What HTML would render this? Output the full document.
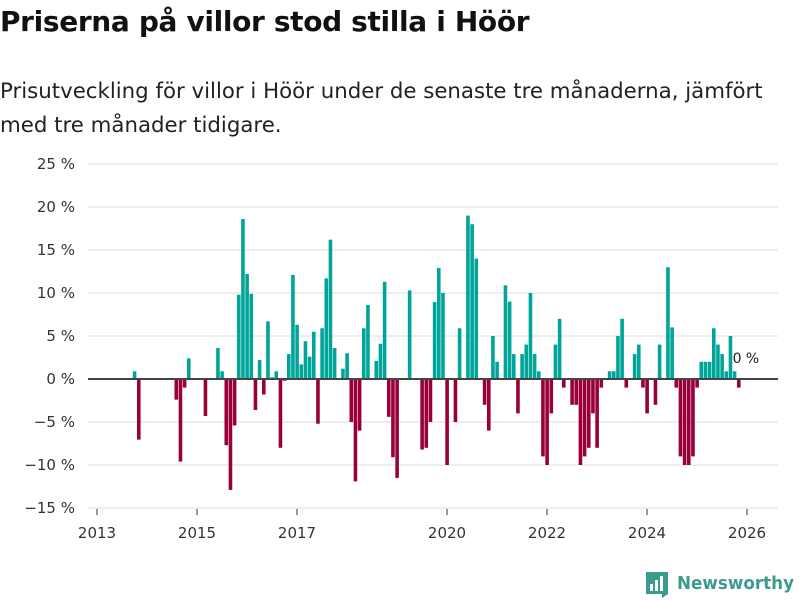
<!DOCTYPE html>
<html><head><meta charset="utf-8"><style>
body{margin:0;background:#fff;font-family:"Liberation Sans","DejaVu Sans",sans-serif;}
#wrap{position:relative;width:800px;height:600px;overflow:hidden}
h1{position:absolute;left:0;top:5px;margin:0;font-family:"DejaVu Sans",sans-serif;font-size:28px;font-weight:bold;color:#111;letter-spacing:-0.35px}
p.sub{position:absolute;left:0;top:75px;margin:0;font-family:"DejaVu Sans",sans-serif;font-size:21.3px;line-height:34px;color:#222;width:795px}
svg{position:absolute;left:0;top:0}
</style></head><body>
<div id="wrap">
<h1>Priserna på villor stod stilla i Höör</h1>
<p class="sub">Prisutveckling för villor i Höör under de senaste tre månaderna, jämfört med tre månader tidigare.</p>
<svg id="chart" width="800" height="600"></svg>
</div>
<script>
const monthIndex=[8,9,18,19,20,21,25,28,29,30,31,32,33,34,35,36,37,38,39,40,41,42,43,44,45,46,47,48,49,50,51,52,53,54,55,56,58,59,60,61,62,63,64,66,67,68,69,70,71,74,77,78,79,80,81,82,83,85,86,88,89,90,92,93,94,95,97,98,99,100,101,102,103,104,105,106,107,108,109,110,111,113,114,115,116,117,118,119,120,122,123,124,125,126,128,129,130,131,133,134,136,137,138,139,140,141,142,143,144,145,146,147,148,149,150,151,152,153];
const values=[0.9,-7.05,-2.4,-9.6,-1.0,2.4,-4.3,3.6,0.9,-7.7,-12.9,-5.4,9.8,18.6,12.2,9.9,-3.6,2.2,-1.8,6.7,0.2,0.9,-8.0,-0.2,2.9,12.1,6.3,1.7,4.4,2.6,5.5,-5.2,5.9,11.7,16.2,3.6,1.2,3.0,-5.0,-11.9,-6.0,5.9,8.6,2.1,4.1,11.3,-4.4,-9.1,-11.5,10.3,-8.2,-8.0,-5.0,8.95,12.9,10.0,-10.0,-5.0,5.9,19.0,18.0,14.0,-3.0,-6.0,5.0,2.0,10.9,9.0,2.9,-4.0,2.9,4.0,10.0,2.9,0.9,-9.0,-10.0,-4.0,4.0,7.0,-1.0,-3.0,-3.0,-10.0,-9.0,-8.0,-4.0,-8.0,-1.0,0.9,0.9,5.0,7.0,-1.0,2.9,4.0,-1.0,-4.0,-3.0,4.0,13.0,6.0,-1.0,-9.0,-10.0,-10.0,-9.0,-1.0,2.0,2.0,2.0,5.9,4.0,2.9,0.9,5.0,0.9,-1.0];
const yTicks=[25,20,15,10,5,0,-5,-10,-15];
const xTicks=[2013,2015,2017,2020,2022,2024,2026];
const lastLabel="0 %";

const NS="http://www.w3.org/2000/svg";
const svg=document.getElementById('chart');
function yS(v){return 379-v*8.6;}
function xS(yr){return 97+(yr-2013)*50;}
function mk(tag,attrs){const e=document.createElementNS(NS,tag);for(const k in attrs)e.setAttribute(k,attrs[k]);svg.appendChild(e);return e;}

yTicks.forEach(t=>{
  if(t!==0){const g=mk('line',{x1:88,x2:778,y1:yS(t),y2:yS(t),stroke:'#dedede','stroke-width':1});
  
  }
  const tx=mk('text',{x:75,y:yS(t)+5,'text-anchor':'end','font-size':15,fill:'#333','font-family':'DejaVu Sans, sans-serif'});
  tx.textContent=(t<0?'\u2212'+(-t):t)+' %';
  
  
});
xTicks.forEach(yr=>{
  const x=xS(yr);
  const l=mk('line',{x1:x,x2:x,y1:509,y2:515,stroke:'#333','stroke-width':1});
  
  
  const tx=mk('text',{x:x,y:538,'text-anchor':'middle','font-size':15,fill:'#333','font-family':'DejaVu Sans, sans-serif'});
  tx.textContent=yr;
  
  
});
monthIndex.forEach((m,i)=>{
  const v=values[i];
  const cx=xS(2013+(m+0.5)/12)+2.2;
  const y0=yS(0),y1=yS(v);
  const r=mk('rect',{x:cx-1.8,y:Math.min(y0,y1),width:3.6,height:Math.abs(y1-y0),fill:v>=0?'#00a59a':'#99003a'});
  
  
});
const z=mk('line',{x1:88,x2:778,y1:yS(0),y2:yS(0),stroke:'#444','stroke-width':2});


const lm=monthIndex[monthIndex.length-1];
const ll=mk('text',{x:xS(2013+(lm+0.5)/12)-4,y:363,'font-size':14,fill:'#222','font-family':'DejaVu Sans, sans-serif'});
ll.textContent=lastLabel;


</script>
<svg width="800" height="600" style="position:absolute;left:0;top:0;pointer-events:none">
<path d="M646 572 h22 v22 l-6 4 v-4 h-16 z" fill="#3d9a8e"/>
<rect x="650" y="584" width="3" height="7" fill="#fff"/><rect x="655" y="580" width="3" height="11" fill="#fff"/><rect x="660" y="576" width="3" height="15" fill="#fff"/>
<text x="677" y="589" font-size="18" font-weight="bold" fill="#3d9a8e" font-family="DejaVu Sans, sans-serif" textLength="117" lengthAdjust="spacingAndGlyphs">Newsworthy</text>
</svg>
</body></html>
